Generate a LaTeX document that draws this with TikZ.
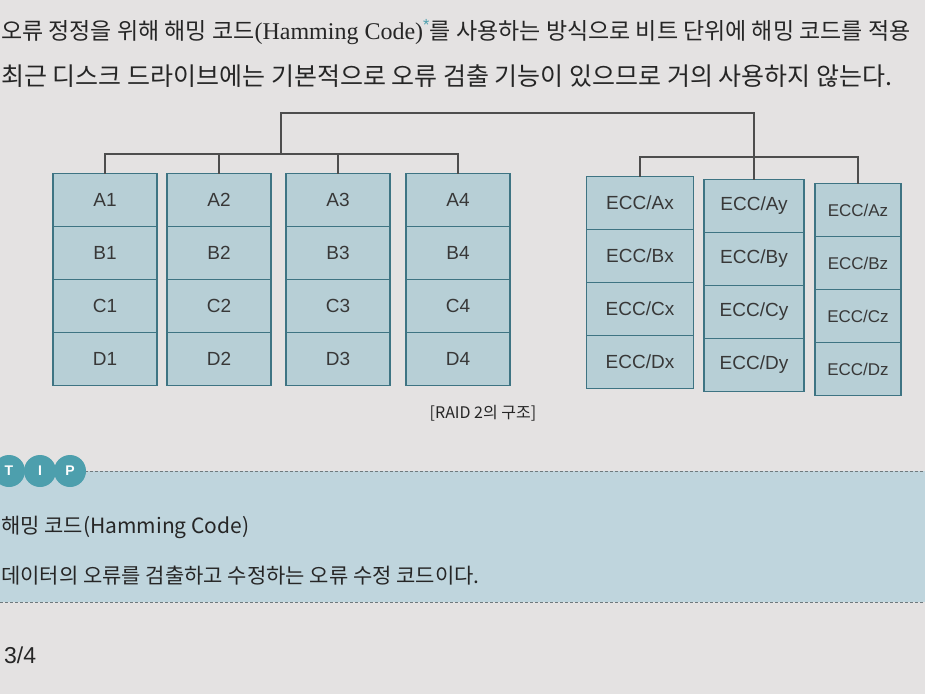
\documentclass[tikz,border=0pt]{standalone}
\usepackage{fontspec}
\setmainfont{Liberation Sans}
\newfontfamily\kr{Noto Sans CJK KR}
\newfontfamily\latinserif{Liberation Serif}
\usetikzlibrary{positioning}
\definecolor{pagebg}{HTML}{E4E2E2}
\definecolor{cellfill}{HTML}{B7CFD6}
\definecolor{cellline}{HTML}{3E7483}
\definecolor{celltext}{HTML}{383838}
\definecolor{treeline}{HTML}{4D4D4D}
\definecolor{bandfill}{HTML}{BFD5DD}
\definecolor{tipteal}{HTML}{4D9FAD}
\definecolor{dashline}{HTML}{6F7A7E}
\begin{document}
\begin{tikzpicture}[x=1pt,y=-1pt,
	cell/.style={draw=cellline, fill=cellfill, line width=1.4pt, minimum width=104pt, minimum height=53pt,
		inner sep=0pt, outer sep=0pt, text=celltext, font=\fontsize{19}{22}\selectfont},
	tree/.style={draw=treeline, line width=1.1pt},
	tipdot/.style={circle, fill=tipteal, text=white, minimum size=32pt, inner sep=0pt,
		font=\bfseries\fontsize{14}{16}\selectfont},
	page/.style={anchor=west, inner sep=0pt, text=black!85}]
	\clip (0,0) rectangle (925,694);
	\fill[pagebg] (0,0) rectangle (925,694);
	
	% running text above the figure
	\node[page, font=\fontsize{23}{27}\selectfont] (line1) at (1,32)
		{{\kr 오류 정정을 위해 해밍 코드}{\latinserif\fontsize{24}{27}\selectfont(Hamming Code)}\textsuperscript{\textcolor{tipteal}{*}}{\kr 를 사용하는 방식으로 비트 단위에 해밍 코드를 적용}};
	\node[page, font=\fontsize{25}{29}\selectfont] (line2) at (1,76)
		{\kr 최근 디스크 드라이브에는 기본적으로 오류 검출 기능이 있으므로 거의 사용하지 않는다.};
	
	% data disks
	\node[cell] (A1) at (105,200) {A1};
	\node[cell, below=0pt of A1] (B1) {B1};
	\node[cell, below=0pt of B1] (C1) {C1};
	\node[cell, below=0pt of C1] (D1) {D1};
	\node[cell] (A2) at (219,200) {A2};
	\node[cell, below=0pt of A2] (B2) {B2};
	\node[cell, below=0pt of B2] (C2) {C2};
	\node[cell, below=0pt of C2] (D2) {D2};
	\node[cell] (A3) at (338,200) {A3};
	\node[cell, below=0pt of A3] (B3) {B3};
	\node[cell, below=0pt of B3] (C3) {C3};
	\node[cell, below=0pt of C3] (D3) {D3};
	\node[cell] (A4) at (458,200) {A4};
	\node[cell, below=0pt of A4] (B4) {B4};
	\node[cell, below=0pt of B4] (C4) {C4};
	\node[cell, below=0pt of C4] (D4) {D4};
	
	% ECC disks
	\node[cell, minimum width=107pt] (Ax) at (640,203) {ECC/Ax};
	\node[cell, minimum width=107pt, below=0pt of Ax] (Bx) {ECC/Bx};
	\node[cell, minimum width=107pt, below=0pt of Bx] (Cx) {ECC/Cx};
	\node[cell, minimum width=107pt, below=0pt of Cx] (Dx) {ECC/Dx};
	\node[cell, minimum width=100pt] (Ay) at (754,206) {ECC/Ay};
	\node[cell, minimum width=100pt, below=0pt of Ay] (By) {ECC/By};
	\node[cell, minimum width=100pt, below=0pt of By] (Cy) {ECC/Cy};
	\node[cell, minimum width=100pt, below=0pt of Cy] (Dy) {ECC/Dy};
	\node[cell, minimum width=86pt, font=\fontsize{17}{20}\selectfont] (Az) at (858,210) {ECC/Az};
	\node[cell, minimum width=86pt, font=\fontsize{17}{20}\selectfont, below=0pt of Az] (Bz) {ECC/Bz};
	\node[cell, minimum width=86pt, font=\fontsize{17}{20}\selectfont, below=0pt of Bz] (Cz) {ECC/Cz};
	\node[cell, minimum width=86pt, font=\fontsize{17}{20}\selectfont, below=0pt of Cz] (Dz) {ECC/Dz};
	
	% connecting tree
	\coordinate (top) at (281,113);
	\coordinate (dataHub) at (281,154);
	\coordinate (eccHub) at (754,157);
	\draw[tree] (A1.north) |- (dataHub) -| (A4.north);
	\draw[tree] (A2.north) -- (A2.north |- dataHub);
	\draw[tree] (A3.north) -- (A3.north |- dataHub);
	\draw[tree] (Ax.north) |- (eccHub) -| (Az.north);
	\draw[tree] (dataHub) -- (top) -| (Ay.north);
	
	\node[page, anchor=center, font=\kr\fontsize{16}{18}\selectfont] (caption) at (483,413) {[RAID 2의 구조]};
	
	% TIP box
	\fill[bandfill] (0,471) rectangle (925,602);
	\draw[dashline, densely dashed, line width=0.8pt] (85,471) -- (925,471);
	\draw[dashline, densely dashed, line width=0.8pt] (0,602) -- (925,602);
	\node[tipdot] (T) at (9,471) {T};
	\node[tipdot] (I) at (40,471) {I};
	\node[tipdot] (P) at (70,471) {P};
	\node[page, font=\kr\fontsize{21}{25}\selectfont] (tiptitle) at (1,527) {해밍 코드(Hamming Code)};
	\node[page, font=\kr\fontsize{21}{25}\selectfont] (tiptext) at (1,576) {데이터의 오류를 검출하고 수정하는 오류 수정 코드이다.};
	
	\node[page, font=\fontsize{23}{27}\selectfont] (pageno) at (4,655) {3/4};
\end{tikzpicture}
\end{document}
